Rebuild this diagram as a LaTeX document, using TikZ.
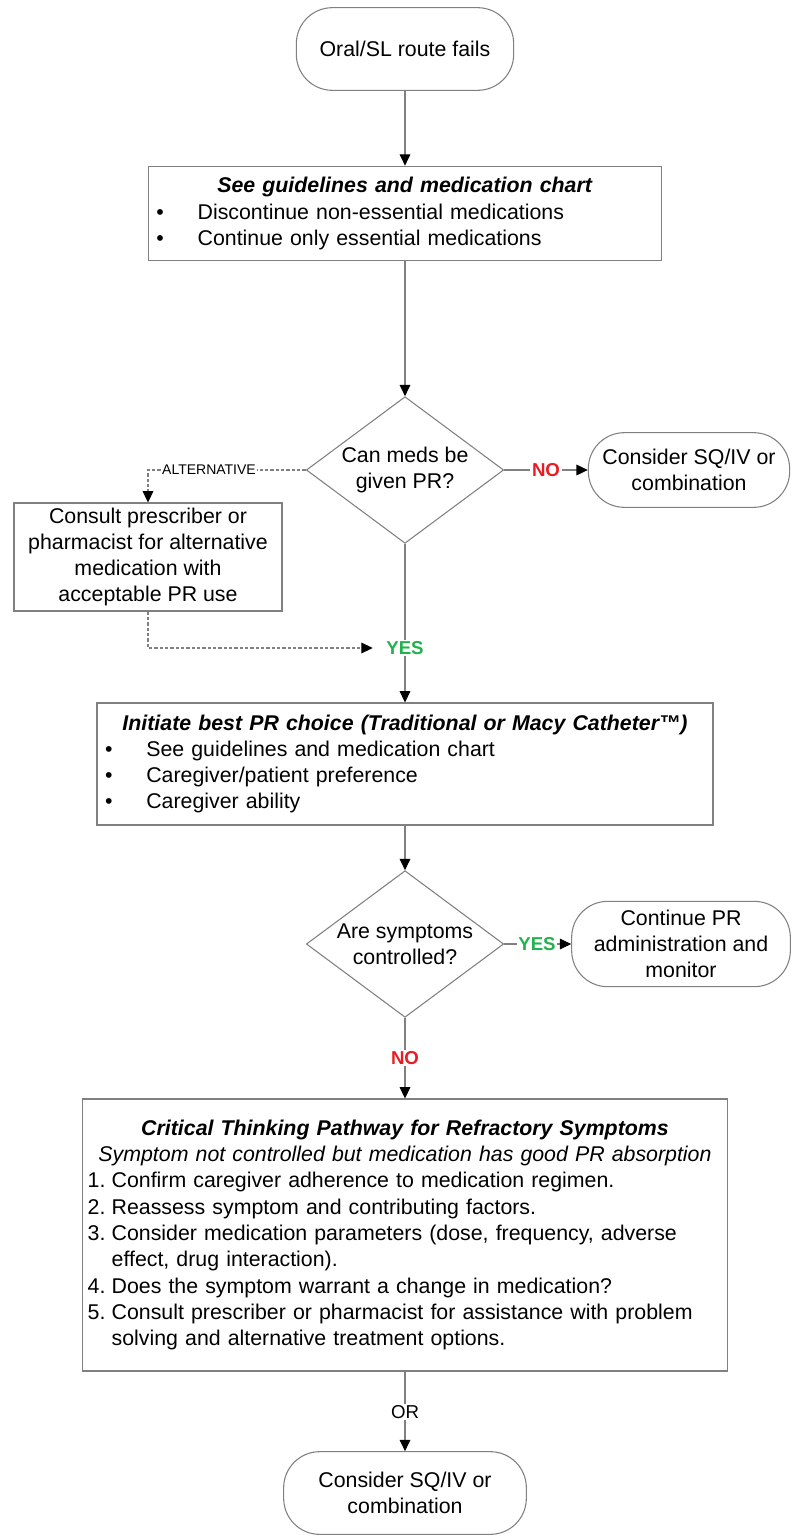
\documentclass[tikz,border=0pt]{standalone}
\usepackage{fontspec}
\setmainfont{Liberation Sans}
\usepackage{tikz}
\usetikzlibrary{calc, positioning, arrows.meta, shapes.geometric}
\definecolor{linegray}{RGB}{128,128,128}
\definecolor{nored}{RGB}{232,28,36}
\definecolor{yesgreen}{RGB}{34,177,76}
\tikzstyle{term}=[draw=linegray, line width=0.8pt, shape=rectangle, rounded corners=27pt, align=center, inner sep=0pt]
\tikzstyle{box}=[draw=linegray, line width=0.8pt, shape=rectangle, inner xsep=6pt, inner ysep=0pt]
\tikzstyle{dec}=[draw=linegray, line width=0.8pt, shape=diamond, aspect=1.35, inner sep=0pt, align=center, minimum width=148pt, minimum height=110pt]
\tikzstyle{lbl}=[inner sep=1pt, font=\fontsize{14}{16}\selectfont\bfseries]
\tikzstyle{conn}=[draw=linegray, line width=0.8pt]
\tikzstyle{dashconn}=[draw=linegray, line width=0.8pt, dash pattern=on 2.5pt off 1.5pt]
\tikzset{>={Triangle[length=8.5pt,width=8pt,black]}}
\newcommand{\midline}[1]{\makebox[\hsize][c]{#1}}
\newcommand{\bul}{\makebox[31pt][l]{\textbullet}}
\newcommand{\stepnum}[1]{\makebox[18pt][l]{#1}}

\begin{document}
\begin{tikzpicture}[x=0.75pt, y=-0.75pt, font={\fontsize{16}{19.7}\selectfont}]
\useasboundingbox (0,0) rectangle (794,1539);
% the terminals
\node[term, minimum width=163pt, minimum height=62pt] (T1) at (405,49) {Oral/SL route fails};
\node[term, minimum width=151pt, minimum height=56pt] (T2) at (689,470) {Consider SQ/IV or\\combination};
\node[term, minimum width=164pt, minimum height=64pt] (T3) at (681,944) {Continue PR\\administration and\\monitor};
\node[term, minimum width=182pt, minimum height=62pt] (T4) at (405,1493) {Consider SQ/IV or\\combination};
% the decisions
\node[dec] (D1) at (405,470) {Can meds be\\given PR?};
\node[dec] (D2) at (405,944) {Are symptoms\\controlled?};
% the boxes
\node[box, minimum height=71pt, text width=373pt, align=left] (B1) at (405,213.5) {\midline{\textbf{\textit{See guidelines and medication chart}}}\\
\bul Discontinue non-essential medications\\
\bul Continue only essential medications};
\node[box, minimum width=201pt, minimum height=81pt, align=center] (B2) at (148,557) {Consult prescriber or\\pharmacist for alternative\\medication with\\acceptable PR use};
\node[box, minimum height=91.5pt, text width=450pt, align=left] (B3) at (405,764) {\midline{\textbf{\textit{Initiate best PR choice (Traditional or Macy Catheter™)}}}\\
\bul See guidelines and medication chart\\
\bul Caregiver/patient preference\\
\bul Caregiver ability};
\node[box, inner xsep=4pt, minimum height=204pt, text width=476pt, align=left] (B4) at (405,1235) {\midline{\textbf{\textit{Critical Thinking Pathway for Refractory Symptoms}}}\\
\midline{\textit{Symptom not controlled but medication has good PR absorption}}\\
\stepnum{1.}Confirm caregiver adherence to medication regimen.\\
\stepnum{2.}Reassess symptom and contributing factors.\\
\stepnum{3.}Consider medication parameters (dose, frequency, adverse\\
\stepnum{}effect, drug interaction).\\
\stepnum{4.}Does the symptom warrant a change in medication?\\
\stepnum{5.}Consult prescriber or pharmacist for assistance with problem\\
\stepnum{}solving and alternative treatment options.};
% the labels
\node[lbl, text=nored] (no1) at (546,470) {NO};
\node[inner sep=1pt, font=\fontsize{10.5}{12}\selectfont] (alt) at (209,470) {ALTERNATIVE};
\node[lbl, text=yesgreen, inner xsep=10pt] (yes1) at (405,648) {YES};
\node[lbl, text=yesgreen] (yes2) at (537,944) {YES};
\node[lbl, text=nored] (no2) at (405,1058) {NO};
\node[lbl, font=\fontsize{14}{16}\selectfont] (or) at (405,1412) {OR};
%
% the solid connectors
\draw[conn, ->] (T1) -- (B1);
\draw[conn, ->] (B1) -- (D1);
\draw[conn] (D1) -- (no1);
\draw[conn, ->] (no1) -- (T2);
\draw[conn] (D1) -- (yes1);
\draw[conn, ->] (yes1) -- (B3);
\draw[conn, ->] (B3) -- (D2);
\draw[conn] (D2) -- (yes2);
\draw[conn, ->] (yes2) -- (T3);
\draw[conn] (D2) -- (no2);
\draw[conn, ->] (no2) -- (B4);
\draw[conn] (B4) -- (or);
\draw[conn, ->] (or) -- (T4);
% the dashed connectors
\draw[dashconn] (D1) -- (alt);
\draw[dashconn, ->] (alt.west) -| (B2.north);
\draw[dashconn, ->] (B2.south) |- (yes1.west);
\end{tikzpicture}
\end{document}
